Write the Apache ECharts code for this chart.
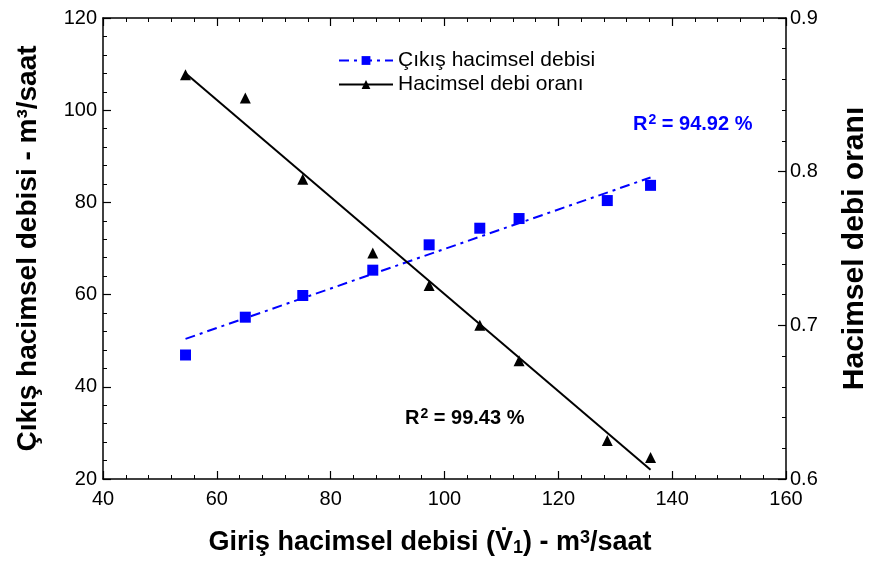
<!DOCTYPE html>
<html>
<head>
<meta charset="utf-8">
<script src="https://cdn.jsdelivr.net/npm/echarts@6/dist/echarts.min.js"></script>
<style>
  html, body { margin: 0; padding: 0; background: #fff; }
  #chart { width: 878px; height: 562px; }
  #err { position: absolute; left: 2px; top: 2px; font: 10px monospace; color: red; }
</style>
</head>
<body>
<div id="chart"></div>
<div id="err"></div>
<script>
window.onerror = function (msg) { document.getElementById('err').textContent += ' ' + msg; };

// giriş debisi (x), m3/saat
var girisDebi = [54.5, 65.0, 75.1, 87.4, 97.3, 106.2, 113.1, 128.6, 136.2];
// çıkış hacimsel debisi, sol eksen
var cikisDebi = [46.9, 55.1, 59.8, 65.3, 70.8, 74.4, 76.5, 80.4, 83.7];
// hacimsel debi oranı, sağ eksen
var debiOrani = [0.863, 0.848, 0.795, 0.747, 0.726, 0.700, 0.677, 0.625, 0.614];
// regresyon doğrularının uç noktaları
var fitX = [54.5, 136.2];
var fitCikis = [50.4, 85.4];
var fitOran = [0.864, 0.606];

var xTicks = [40, 160, 20];
var yLeftTicks = [20, 120, 20];
var yRightTicks = [0.6, 0.9, 0.1];

function pairs(xs, ys) {
  var out = [];
  for (var i = 0; i < xs.length; i++) out.push([xs[i], ys[i]]);
  return out;
}

var FONT = '"Liberation Sans", Arial, sans-serif';
var BLUE = '#0000ff';

function ax(pos, t, lab, margin, fmt) {
  var l = lab === false ? { show: false } : { show: true };
  if (lab !== false) {
    l.color = '#000'; l.fontSize = 20; l.fontFamily = FONT; l.margin = margin;
    if (fmt) l.formatter = fmt;
  }
  return {
    type: 'value', position: pos, min: t[0], max: t[1], interval: t[2],
    axisLine: { show: true, lineStyle: { color: '#000', width: 1.5 } },
    axisTick: { show: true, inside: true, length: 8, lineStyle: { color: '#000', width: 1.2 } },
    minorTick: { show: true, splitNumber: 5, length: 4, lineStyle: { color: '#000', width: 1 } },
    splitLine: { show: false },
    axisLabel: l
  };
}

function bold(size, color) {
  return { fontSize: size, fontWeight: 'bold', fontFamily: FONT, color: color };
}

var xBottom = ax('bottom', xTicks, true, 10);
xBottom.name = '{t|Giriş hacimsel debisi (V\u0307}{b|1}{t|) - m}{p|3}{t|/saat}';
xBottom.nameLocation = 'middle';
xBottom.nameGap = 50;
xBottom.nameTextStyle = {
  padding: [0, 29, 0, 0],
  rich: {
    t: bold(27, '#000'),
    b: Object.assign(bold(18, '#000'), { verticalAlign: 'bottom', padding: [10, 0, 0, 0] }),
    p: Object.assign(bold(18, '#000'), { verticalAlign: 'top', padding: [0, 0, 10, 0] })
  }
};

var yLeft = ax('left', yLeftTicks, true, 6);
yLeft.name = 'Çıkış hacimsel debisi - m³/saat';
yLeft.nameLocation = 'middle';
yLeft.nameRotate = 90;
yLeft.nameGap = 61;
yLeft.nameTextStyle = bold(28, '#000');

var yRight = ax('right', yRightTicks, true, 4, function (v) { return v.toFixed(1); });
yRight.name = 'Hacimsel debi oranı';
yRight.nameLocation = 'middle';
yRight.nameRotate = 90;
yRight.nameGap = 54;
yRight.nameTextStyle = bold(30, '#000');

var myChart = echarts.init(document.getElementById('chart'));
myChart.setOption({
  backgroundColor: '#ffffff',
  animation: false,
  grid: { left: 103, right: 84, top: 18, bottom: 83 },
  title: [{
    text: '{r|R}{s|2}{r| = 94.92 %}',
    left: 628, top: 108,
    textStyle: {
      rich: {
        r: bold(20, BLUE),
        s: Object.assign(bold(14, BLUE), { verticalAlign: 'top', padding: [0, 0, 8, 1] })
      }
    }
  }, {
    text: '{r|R}{s|2}{r| = 99.43 %}',
    left: 400, top: 402,
    textStyle: {
      rich: {
        r: bold(20, '#000'),
        s: Object.assign(bold(14, '#000'), { verticalAlign: 'top', padding: [0, 0, 8, 1] })
      }
    }
  }],
  legend: {
    data: ['Çıkış hacimsel debisi', 'Hacimsel debi oranı'],
    orient: 'vertical',
    left: 333,
    top: 45,
    itemWidth: 54,
    itemHeight: 11,
    itemGap: 3,
    selectedMode: false,
    textStyle: { color: '#000', fontSize: 21, fontFamily: FONT }
  },
  xAxis: [xBottom, ax('top', xTicks, false)],
  yAxis: [yLeft, yRight],
  series: [{
    name: 'Çıkış hacimsel debisi',
    type: 'line',
    xAxisIndex: 0, yAxisIndex: 0,
    data: pairs(fitX, fitCikis),
    showSymbol: false,
    symbol: 'rect', symbolSize: 10,
    itemStyle: { color: BLUE, opacity: 1 },
    lineStyle: { color: BLUE, width: 2, type: [10, 5, 3, 5] },
    z: 3
  }, {
    name: 'cikisPts',
    type: 'scatter',
    xAxisIndex: 0, yAxisIndex: 0,
    data: pairs(girisDebi, cikisDebi),
    symbol: 'rect', symbolSize: 11,
    itemStyle: { color: BLUE, opacity: 1 },
    z: 4
  }, {
    name: 'Hacimsel debi oranı',
    type: 'line',
    xAxisIndex: 0, yAxisIndex: 1,
    data: pairs(fitX, fitOran),
    showSymbol: false,
    symbol: 'triangle', symbolSize: 11,
    itemStyle: { color: '#000', opacity: 1 },
    lineStyle: { color: '#000', width: 2 },
    z: 3
  }, {
    name: 'oranPts',
    type: 'scatter',
    xAxisIndex: 0, yAxisIndex: 1,
    data: pairs(girisDebi, debiOrani),
    symbol: 'triangle', symbolSize: 11,
    itemStyle: { color: '#000', opacity: 1 },
    z: 4
  }]
});
</script>
</body>
</html>
